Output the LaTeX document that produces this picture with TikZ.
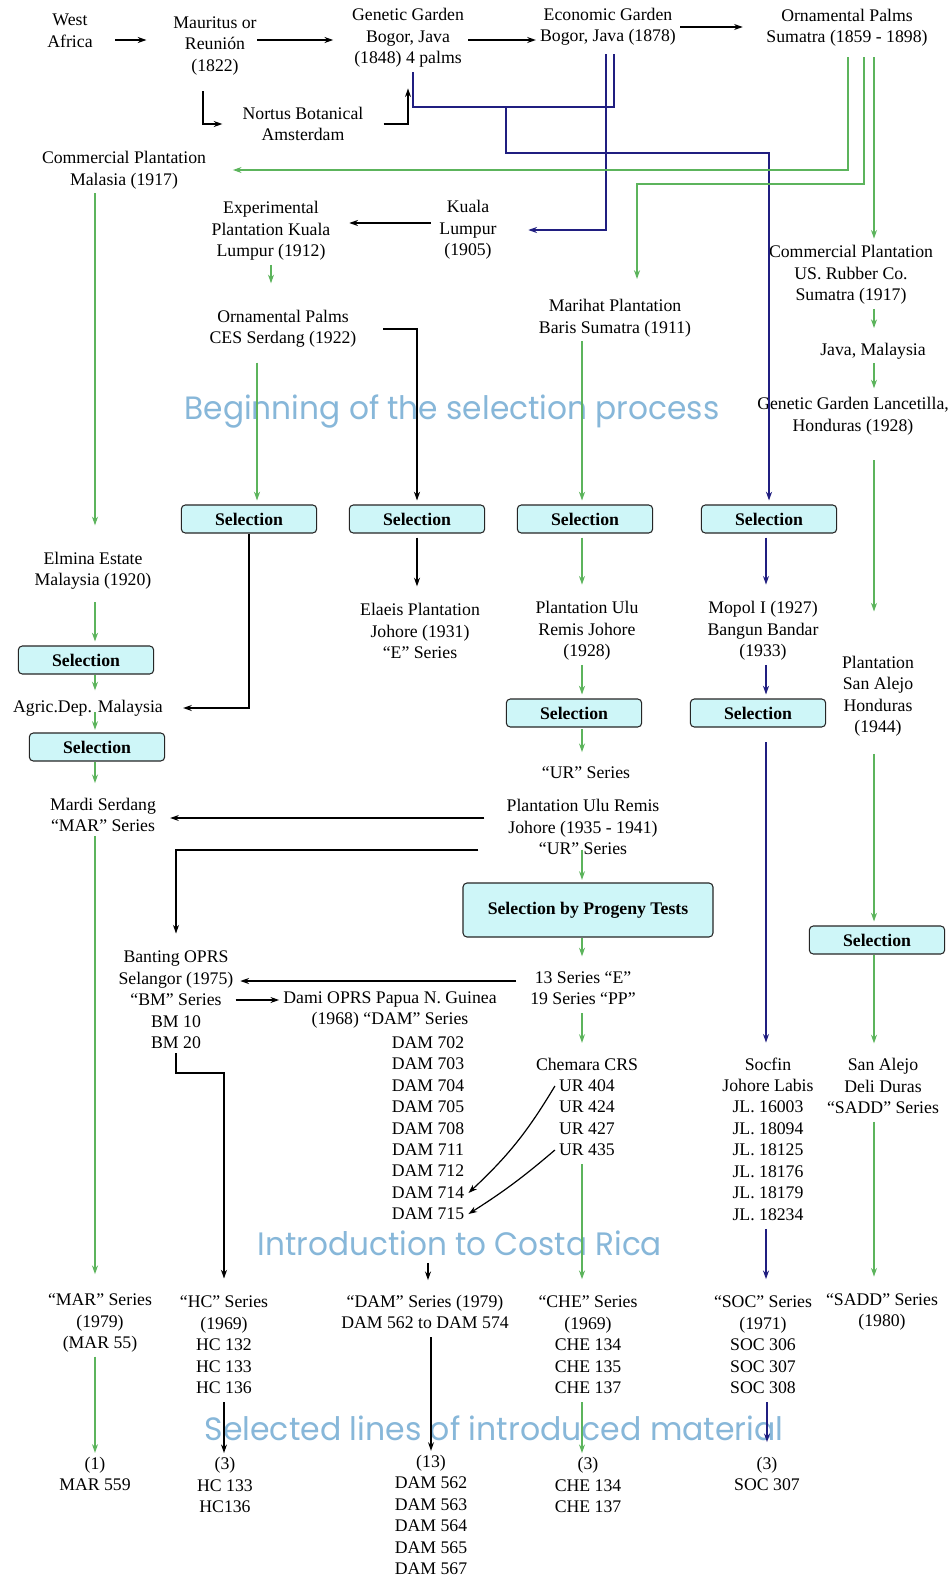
\documentclass[tikz,border=0pt]{standalone}
\usepackage{fontspec}
\setmainfont{Liberation Serif}
\newfontfamily\geofont{Poppins}
\usetikzlibrary{arrows.meta,calc}

\definecolor{lnGreen}{RGB}{92,180,92}
\definecolor{lnNavy}{RGB}{32,30,128}
\definecolor{boxFill}{RGB}{206,246,248}
\definecolor{capBlue}{RGB}{135,183,217}
\newcommand\dgmfont{\fontsize{13.3}{16.1}\selectfont}

\tikzset{
  lbl/.style={align=center, inner sep=3pt, font=\dgmfont},
  selbox/.style={draw=black!85, line width=0.8pt, fill=boxFill, rounded corners=3pt,
    minimum width=101.5pt, minimum height=21pt, inner sep=0pt, font=\dgmfont\bfseries},
  captext/.style={text=capBlue, inner sep=0pt},
  myhead/.style={-{Stealth[length=6.5pt,width=4.5pt]}},
  kline/.style={draw=black, line width=0.9pt},
  karr/.style={kline, myhead},
  garr/.style={draw=lnGreen, line width=0.9pt, myhead},
  narr/.style={draw=lnNavy, line width=0.9pt, myhead},
  nline/.style={draw=lnNavy, line width=0.9pt},
}

\begin{document}
\begin{tikzpicture}[x=0.75pt,y=-0.75pt]
\fill[white] (0,0) rectangle (952,1581);
\useasboundingbox (0,0) rectangle (952,1581);

% headline captions (drawn first, connectors pass over them)
\node[captext] (capA) at (452,412) {\resizebox{401pt}{18.5pt}{\geofont Beginning of the selection process}};
\node[captext] (capB) at (460,1243) {\resizebox{303pt}{18.5pt}{\geofont Introduction to Costa Rica}};
\node[captext] (capC) at (494,1428) {\resizebox{434pt}{18.5pt}{\geofont Selected lines of introduced material}};

% ---- origins ----
\node[lbl] (wa)  at (70,31)  {West\\Africa};
\node[lbl] (mau) at (215,46) {Mauritus or\\Reunión\\(1822)};
\node[lbl] (gg)  at (408,38) {Genetic Garden\\Bogor, Java\\(1848) 4 palms};
\node[lbl] (eg)  at (608,27) {Economic Garden\\Bogor, Java (1878)};
\node[lbl] (op)  at (847,28) {Ornamental Palms\\Sumatra (1859 - 1898)};
\node[lbl] (nb)  at (303,124) {Nortus Botanical\\Amsterdam};
\node[lbl] (cpm) at (124,170) {Commercial Plantation\\Malasia (1917)};
\node[lbl] (epk) at (271,231) {Experimental\\Plantation Kuala\\Lumpur (1912)};
\node[lbl] (kl)  at (468,230) {Kuala\\Lumpur\\(1905)};
\node[lbl] (ces) at (283,329) {Ornamental Palms\\CES Serdang (1922)};
\node[lbl] (mar) at (615,318) {Marihat Plantation\\Baris Sumatra (1911)};
\node[lbl] (cpu) at (851,275) {Commercial Plantation\\US. Rubber Co.\\Sumatra (1917)};
\node[lbl] (jm)  at (873,351) {Java, Malaysia};
\node[lbl] (ggl) at (853,416) {Genetic Garden Lancetilla,\\Honduras (1928)};

% ---- selection stage ----
\node[selbox] (s1) at (249,519) {Selection};
\node[selbox] (s2) at (417,519) {Selection};
\node[selbox] (s3) at (585,519) {Selection};
\node[selbox] (s4) at (769,519) {Selection};
\node[lbl] (elm) at (93,571)  {Elmina Estate\\Malaysia (1920)};
\node[lbl] (ela) at (420,631) {Elaeis Plantation\\Johore (1931)\\“E” Series};
\node[lbl] (pur) at (587,631) {Plantation Ulu\\Remis Johore\\(1928)};
\node[lbl] (mop) at (763,631) {Mopol I (1927)\\Bangun Bandar\\(1933)};
\node[lbl] (psa) at (878,696) {Plantation\\San Alejo\\Honduras\\(1944)};
\node[selbox] (sl1) at (86,660) {Selection};
\node[lbl] (agr) at (88,708) {Agric.Dep. Malaysia};
\node[selbox] (sl2) at (97,747) {Selection};
\node[selbox] (s5) at (574,713) {Selection};
\node[selbox] (s6) at (758,713) {Selection};
\node[lbl] (urs) at (586,773) {“UR” Series};
\node[lbl] (mardi) at (103,815) {Mardi Serdang\\“MAR” Series};
\node[lbl] (pur2) at (583,827) {Plantation Ulu Remis\\Johore (1935 - 1941)\\“UR” Series};
\node[selbox, minimum width=187.5pt, minimum height=40.5pt] (prog) at (588,910) {Selection by Progeny Tests};
\node[selbox] (s7) at (877,940) {Selection};
\node[lbl] (bant) at (176,1000) {Banting OPRS\\Selangor (1975)\\“BM” Series\\BM 10\\BM 20};
\node[lbl] (ser) at (583,988) {13 Series “E”\\19 Series “PP”};
\node[lbl] (dami) at (390,1010) {Dami OPRS Papua N. Guinea\\(1968) “DAM” Series};
\foreach \n/\y in {702/1043,703/1064,704/1086,705/1107,708/1129,711/1150,712/1171,714/1193,715/1214}
  \node[lbl] (d\n) at (428,\y) {DAM \n};
\node[lbl] (chemT) at (587,1064) {Chemara CRS};
\foreach \n/\y in {404/1086,424/1107,427/1129,435/1150}
  \node[lbl] (ur\n) at (587,\y) {UR \n};
\node[lbl] (soc) at (768,1139) {Socfin\\Johore Labis\\JL. 16003\\JL. 18094\\JL. 18125\\JL. 18176\\JL. 18179\\JL. 18234};
\node[lbl] (sad) at (883,1086) {San Alejo\\Deli Duras\\“SADD” Series};

% ---- material introduced ----
\node[lbl] (b1) at (100,1323) {“MAR” Series\\(1979)\\(MAR 55)};
\node[lbl] (b2) at (224,1345) {“HC” Series\\(1969)\\HC 132\\HC 133\\HC 136};
\node[lbl] (b3) at (425,1312) {“DAM” Series (1979)\\DAM 562 to DAM 574};
\node[lbl] (b4) at (588,1345) {“CHE” Series\\(1969)\\CHE 134\\CHE 135\\CHE 137};
\node[lbl] (b5) at (763,1345) {“SOC” Series\\(1971)\\SOC 306\\SOC 307\\SOC 308};
\node[lbl] (b6) at (882,1312) {“SADD” Series\\(1980)};
\node[lbl] (c1) at (95,1474)  {(1)\\MAR 559};
\node[lbl] (c2) at (225,1485) {(3)\\HC 133\\HC136};
\node[lbl] (c3) at (431,1515) {(13)\\DAM 562\\DAM 563\\DAM 564\\DAM 565\\DAM 567};
\node[lbl] (c4) at (588,1485) {(3)\\CHE 134\\CHE 137};
\node[lbl] (c5) at (767,1474) {(3)\\SOC 307};

% ---- routing columns, rows and junctions ----
\coordinate (cLG) at (95,0);
\coordinate (cMG) at (582,0);
\coordinate (cNV) at (766,0);
\coordinate (cRG) at (874,0);
\coordinate (cCS) at (257,0);
\coordinate (kM)  at (203,0);
\coordinate (gA)  at (848,0);
\coordinate (gB)  at (864,0);
\coordinate (gBend) at (637,184);
\coordinate (nvA) at (614,0);
\coordinate (nvB) at (606,0);
\coordinate (nvJ) at (413,107);
\coordinate (nvK) at (506,107);
\coordinate (nvR) at (0,153);
\coordinate (r40)  at (0,40);
\coordinate (r223) at (0,223);
\coordinate (r818) at (0,818);
\coordinate (r850) at (0,850);
\coordinate (r981) at (0,981);
\coordinate (r1000) at (0,1000);
\coordinate (r1073) at (0,1073);

% ---- black connectors ----
\draw[karr, shorten <=13.8pt, shorten >=17pt] (wa.east |- r40) -- (mau.west |- r40);
\draw[karr, shorten <=-2.6pt, shorten >=11pt] (mau.east |- r40) -- (gg.west |- r40);
\draw[karr] (gg.east |- r40) -- (eg.west |- r40);
\draw[karr, shorten >=14.6pt] (eg.east) -- (eg.east -| op.west);
\draw[karr, shorten <=9pt, shorten >=12pt] (mau.south -| kM) |- (nb.west);
\draw[karr, shorten <=12pt, shorten >=12.5pt] (nb.east) -| (gg.south);
\draw[karr, shorten <=3.4pt, shorten >=11pt] (kl.west |- r223) -- (epk.east |- r223);
\draw[karr, shorten <=17pt, shorten >=3pt] (ces.east) -| (s2.north);
\draw[karr, shorten >=12pt] (s1.south) |- (agr.east);
\draw[karr, shorten <=3pt, shorten >=9.5pt] (s2.south) -- (s2.south |- ela.north);
\draw[karr, shorten <=13.5pt, shorten >=7.5pt] (pur2.west |- r818) -- (mardi.east |- r818);
\draw[karr, shorten <=18pt, shorten >=10pt] (pur2.west |- r850) -| (bant.north);
\draw[karr, shorten <=7.5pt, shorten >=2pt] (ser.west |- r981) -- (bant.east |- r981);
\draw[karr, shorten <=-1.5pt] (bant.east |- r1000) -- (dami.west |- r1000);
\draw[karr, shorten >=10pt] (bant.south) -- (bant.south |- r1073) -| (b2.north);
\draw[karr] (ur404.west) to[bend left=8] (d714.east);
\draw[karr] (ur435.west) to[bend left=4] (d715.east);
\draw[karr, shorten <=29pt, shorten >=8pt] (d715.south) -- (d715.south |- b3.north);
\draw[karr, shorten <=3pt] (b2.south) -- (b2.south |- c2.north);
\draw[karr, shorten <=3pt] (b3.south -| c3.north) -- (c3.north);

% ---- navy connectors ----
\draw[nline, shorten <=3pt] (eg.south -| nvA) |- (nvJ) -- (nvJ |- gg.south);
\draw[narr, shorten <=3pt, shorten >=20.6pt] (eg.south -| nvB) |- (kl.east);
\draw[narr, shorten >=3pt] (nvK) -- (nvK |- nvR) -| (s4.north);
\draw[narr, shorten <=3pt, shorten >=9.5pt] (s4.south -| cNV) -- (mop.north -| cNV);
\draw[narr, shorten >=3pt] (mop.south -| cNV) -- (s6.north -| cNV);
\draw[narr, shorten <=11pt, shorten >=8pt] (s6.south -| cNV) -- (soc.north -| cNV);
\draw[narr, shorten <=3pt, shorten >=9.5pt] (soc.south -| cNV) -- (b5.north -| cNV);
\draw[narr, shorten <=3pt, shorten >=8pt] (b5.south -| c5.north) -- (c5.north);

% ---- green connectors ----
\draw[garr, shorten <=4.5pt, shorten >=17pt] (op.south -| gA) |- (cpm.east);
\draw[garr, shorten <=4.5pt, shorten >=12pt] (op.south -| gB) |- (gBend) -- (gBend |- mar.north);
\draw[garr, shorten <=4.5pt, shorten >=2pt] (op.south -| cRG) -- (cpu.north -| cRG);
\draw[garr, shorten >=8pt] (cpu.south -| cRG) -- (jm.north -| cRG);
\draw[garr, shorten >=3.5pt] (jm.south -| cRG) -- (ggl.north -| cRG);
\draw[garr, shorten <=16pt, shorten >=30pt] (ggl.south -| cRG) -- (psa.north -| cRG);
\draw[garr, shorten <=10pt, shorten >=3pt] (psa.south -| cRG) -- (s7.north -| cRG);
\draw[garr, shorten >=8pt] (s7.south -| cRG) -- (sad.north -| cRG);
\draw[garr, shorten <=3pt, shorten >=9.5pt] (sad.south -| cRG) -- (b6.north -| cRG);

\draw[garr, shorten >=17pt] (cpm.south -| cLG) -- (elm.north -| cLG);
\draw[garr, shorten <=6pt, shorten >=3pt] (elm.south -| cLG) -- (sl1.north -| cLG);
\draw[garr, shorten >=4pt] (sl1.south -| cLG) -- (agr.north -| cLG);
\draw[garr, shorten <=-6pt, shorten >=2pt] (agr.south -| cLG) -- (sl2.north -| cLG);
\draw[garr, shorten >=8pt] (sl2.south -| cLG) -- (mardi.north -| cLG);
\draw[garr, shorten >=11.5pt] (mardi.south -| cLG) -- (b1.north -| cLG);
\draw[garr] (b1.south -| cLG) -- (c1.north -| cLG);

\draw[garr, shorten >=17pt] (epk.south) -- (epk.south |- ces.north);
\draw[garr, shorten <=8pt, shorten >=3pt] (ces.south -| cCS) -- (s1.north -| cCS);

\draw[garr, shorten >=3pt] (mar.south -| cMG) -- (s3.north -| cMG);
\draw[garr, shorten <=3pt, shorten >=9.5pt] (s3.south -| cMG) -- (pur.north -| cMG);
\draw[garr, shorten >=3pt] (pur.south -| cMG) -- (s5.north -| cMG);
\draw[garr, shorten <=1pt, shorten >=8pt] (s5.south -| cMG) -- (urs.north -| cMG);
\draw[garr, shorten <=-7pt, shorten >=2pt] (pur2.south -| cMG) -- (prog.north -| cMG);
\draw[garr, shorten >=8pt] (prog.south -| cMG) -- (ser.north -| cMG);
\draw[garr, shorten <=3pt, shorten >=8pt] (ser.south -| cMG) -- (chemT.north -| cMG);
\draw[garr, shorten <=3pt, shorten >=9.5pt] (ur435.south -| cMG) -- (b4.north -| cMG);
\draw[garr, shorten <=3pt] (b4.south -| cMG) -- (c4.north -| cMG);
\end{tikzpicture}
\end{document}
